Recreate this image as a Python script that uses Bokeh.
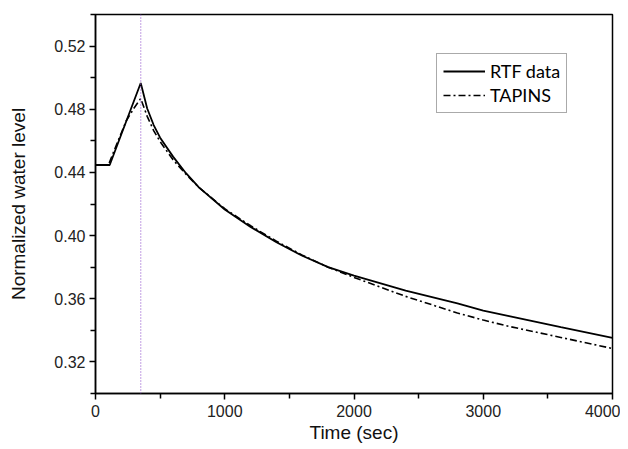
from bokeh.plotting import figure
from bokeh.models import FixedTicker, PrintfTickFormatter, Legend, LegendItem, Range1d, Span
from bokeh.embed import file_html
from bokeh.resources import INLINE

# RTF data (solid)
t_rtf = [0, 110, 350, 400, 450, 500, 600, 700, 800, 1000, 1200, 1400, 1600, 1800, 2000, 2400, 2800, 3000, 3200, 3600, 4000]
rtf = [0.4447, 0.4447, 0.4966, 0.4805, 0.4700, 0.4620, 0.4500, 0.4395, 0.4305, 0.4165, 0.4055, 0.3958, 0.3872, 0.3800, 0.3746, 0.3652, 0.3570, 0.3525, 0.3490, 0.3420, 0.3352]

# TAPINS (dash-dot)
t_tap = [0, 100, 150, 238, 300, 350, 400, 450, 500, 600, 700, 800, 1000, 1200, 1400, 1600, 1800, 2000, 2400, 2800, 3000, 3200, 3600, 4000]
tap = [0.4447, 0.4447, 0.4550, 0.4727, 0.4810, 0.4868, 0.4755, 0.4665, 0.4595, 0.4480, 0.4388, 0.4305, 0.4170, 0.4062, 0.3964, 0.3876, 0.3800, 0.3735, 0.3615, 0.3510, 0.3465, 0.3425, 0.3355, 0.3285]

marker_t = 350

x_ticks = [0, 1000, 2000, 3000, 4000]
x_minor = [500, 1500, 2500, 3500]
y_ticks = [0.32, 0.36, 0.40, 0.44, 0.48, 0.52]
y_minor = [0.30, 0.34, 0.38, 0.42, 0.46, 0.50, 0.54]

p = figure(width=620, height=445, output_backend="svg", toolbar_location=None,
           x_range=Range1d(0, 4000), y_range=Range1d(0.30, 0.54),
           min_border_left=95, min_border_right=8, min_border_top=14, min_border_bottom=52)

p.xgrid.visible = False
p.ygrid.visible = False
p.background_fill_color = "white"
p.border_fill_color = "white"
p.outline_line_color = "black"
p.outline_line_width = 1.5
p.outline_line_alpha = 1.0

vline = Span(location=marker_t, dimension="height", line_color="#9a5fd0", line_width=1.2, line_dash="1 2")
p.add_layout(vline)

r1 = p.line(t_rtf, rtf, line_color="black", line_width=1.8)
r2 = p.line(t_tap, tap, line_color="black", line_width=1.6, line_dash="7 3 2 3")

p.xaxis.ticker = FixedTicker(ticks=x_ticks, minor_ticks=x_minor)
p.yaxis.ticker = FixedTicker(ticks=y_ticks, minor_ticks=y_minor)
p.yaxis.formatter = PrintfTickFormatter(format="%.2f")

for ax in (p.xaxis[0], p.yaxis[0]):
    ax.axis_line_width = 1.5
    ax.axis_line_color = "black"
    ax.major_tick_line_color = "black"
    ax.minor_tick_line_color = "black"
    ax.major_tick_line_width = 1.5
    ax.minor_tick_line_width = 1.5
    ax.major_tick_out = 6
    ax.major_tick_in = 0
    ax.minor_tick_out = 5
    ax.minor_tick_in = 0
    ax.major_label_text_font = "Liberation Sans"
    ax.major_label_text_font_size = "16px"
    ax.major_label_text_color = "#222222"
    ax.axis_label_text_font = "Liberation Sans"
    ax.axis_label_text_font_size = "19px"
    ax.axis_label_text_font_style = "normal"
    ax.axis_label_text_color = "#111111"

p.xaxis.major_label_standoff = 5
p.yaxis.major_label_standoff = 4
p.xaxis.axis_label = "Time (sec)"
p.yaxis.axis_label = "Normalized water level"
p.xaxis.axis_label_standoff = 2
p.yaxis.axis_label_standoff = 22

legend = Legend(items=[LegendItem(label="RTF data", renderers=[r1]),
                       LegendItem(label="TAPINS", renderers=[r2])],
                location=(341, 280))
legend.label_text_font = "Lato"
legend.label_text_font_size = "18px"
legend.label_text_color = "black"
legend.glyph_width = 42
legend.glyph_height = 20
legend.label_standoff = 5
legend.padding = 6
legend.spacing = 2
legend.margin = 0
legend.border_line_color = "#555555"
legend.border_line_width = 1
legend.background_fill_alpha = 1.0
p.add_layout(legend, "center")

open("out.html", "w").write(file_html(p, INLINE))
